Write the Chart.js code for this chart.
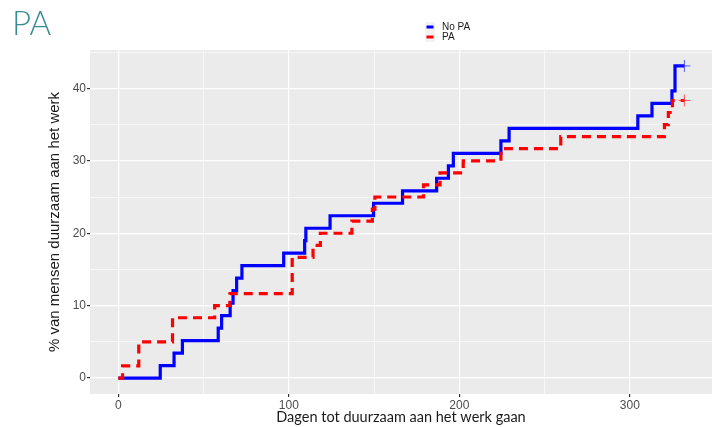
<!DOCTYPE html>
<html>
<head>
<meta charset="utf-8">
<script src="https://cdn.jsdelivr.net/npm/chart.js@4.4.1/dist/chart.umd.min.js"></script>
<style>
	body { margin: 0; background: #ffffff; }
	#wrap { position: relative; width: 719px; height: 427px; }
	#title {
		position: absolute; left: 12px; top: 2px;
		font-family: "Lato", "Open Sans", sans-serif; font-weight: 300;
		font-size: 33px; color: #3a8c94; letter-spacing: 0px;
	}
</style>
</head>
<body>
<div id="wrap">
	<canvas id="kmChart" width="719" height="427"></canvas>
	<div id="title">PA</div>
</div>
<script>
// series values (days, cumulative %)
const noPaDays = [0, 24.6, 32.7, 37.6, 58.6, 60.6, 65.6, 67.3, 69.4, 72.5, 97, 109.3, 110, 124.2, 149.7, 166.7, 186.7, 193.6, 196.5, 224.4, 229.2, 304.7, 313, 324.7, 326.5, 332];
const noPaPct = [0, 1.72, 3.45, 5.17, 6.9, 8.62, 10.34, 12.07, 13.79, 15.52, 17.24, 18.97, 20.69, 22.41, 24.14, 25.86, 27.59, 29.31, 31.03, 32.76, 34.48, 36.21, 37.93, 39.66, 43.1, 43.1];
const paDays = [0, 2.5, 12, 31.8, 56.5, 65.5, 102, 114.2, 118.5, 137, 149, 150.5, 179, 188.7, 202.3, 224.4, 259.5, 320.3, 322.6, 325, 332];
const paPct = [0, 1.67, 5.0, 8.33, 10.0, 11.67, 16.67, 18.33, 20.0, 21.67, 23.33, 25.0, 26.67, 28.33, 30.0, 31.67, 33.33, 35.0, 36.67, 38.33, 38.33];
const seriesLabels = ["No PA", "PA"];
const xTicks = [0, 100, 200, 300];
const yTicks = [0, 10, 20, 30, 40];

function toPoints(days, pct) {
	return days.map((d, i) => ({ x: d, y: pct[i] }));
}

// only the last point gets the censor "+"
function lastOnly(size) {
	return (ctx) => ctx.dataIndex === ctx.dataset.data.length - 1 ? size : 0;
}

//grey panel behind the plot, like ggplot
const panelBg = {
	id: "panelBg",
	beforeDraw(chart) {
		const { ctx, chartArea: a } = chart;
		ctx.save();
		ctx.fillStyle = "#ebebeb";
		ctx.fillRect(a.left, a.top, a.right - a.left, a.bottom - a.top);
		ctx.restore();
	}
};

//small legend above the panel
const keyLegend = {
	id: "keyLegend",
	afterDraw(chart) {
		const ctx = chart.ctx;
		const x = 425, y0 = 22;
		ctx.save();
		ctx.fillStyle = "#f2f2f2";
		ctx.fillRect(x, y0, 10, 20);
		chart.data.datasets.forEach((ds, i) => {
			const y = y0 + 5 + i * 10;
			ctx.strokeStyle = ds.borderColor;
			ctx.lineWidth = 3;
			ctx.beginPath();
			ctx.moveTo(x + 1.5, y);
			ctx.lineTo(x + 8.5, y);
			ctx.stroke();
			ctx.fillStyle = "#1a1a1a";
			ctx.font = "10px 'Liberation Sans', Arial, sans-serif";
			ctx.textBaseline = "middle";
			ctx.fillText(ds.label, x + 17, y + 0.5);
		});
		ctx.restore();
	}
};

const ctx = document.getElementById("kmChart").getContext("2d");
new Chart(ctx, {
	type: "line",
	data: {
		datasets: [
			{
				label: seriesLabels[0],
				data: toPoints(noPaDays, noPaPct),
				stepped: "before",
				borderColor: "#0000ff",
				borderWidth: 3.2,
				borderJoinStyle: "miter",
				fill: false,
				order: 1,
				pointStyle: "cross",
				pointRadius: lastOnly(6),
				pointHoverRadius: 0,
				pointBorderWidth: 1,
				pointBorderColor: "rgba(40,40,255,0.75)",
			},
			{
				label: seriesLabels[1],
				data: toPoints(paDays, paPct),
				stepped: "before",
				borderColor: "#ff0000",
				borderWidth: 3.2,
				borderDash: [9, 6],
				borderJoinStyle: "miter",
				fill: false,
				order: 0,
				pointStyle: "cross",
				pointRadius: lastOnly(6),
				pointHoverRadius: 0,
				pointBorderWidth: 1,
				pointBorderColor: "rgba(255,40,40,0.75)",
			},
		],
	},
	options: {
		responsive: false,
		animation: false,
		layout: { padding: { left: 0, right: 6, top: 50, bottom: 0 } },
		plugins: {
			legend: { display: false },
			title: { display: false },
			tooltip: { enabled: false },
		},
		scales: {
			x: {
				type: "linear",
				min: -16.6,
				max: 348.2,
				afterFit: (scale) => { scale.height = 33; },
				border: { display: false },
				grid: {
					color: "#ffffff",
					lineWidth: (c) => xTicks.includes(c.tick.value) ? 1.2 : 0.6,
					tickColor: (c) => xTicks.includes(c.tick.value) ? "#333333" : "transparent",
					tickLength: 3,
				},
				ticks: {
					stepSize: 50,
					autoSkip: false,
					includeBounds: false,
					maxRotation: 0,
					padding: 1,
					color: "#4d4d4d",
					font: { family: "'Liberation Sans', Arial, sans-serif", size: 12 },
					callback: (v) => xTicks.includes(v) ? v : "",
				},
				title: {
					display: true,
					text: "Dagen tot duurzaam aan het werk gaan",
					color: "#1a1a1a",
					font: { family: "Lato, 'Open Sans', sans-serif", size: 14.5 },
					padding: { top: 0, bottom: 1 },
				},
			},
			y: {
				type: "linear",
				min: -2.2,
				max: 45.3,
				afterFit: (scale) => { scale.width = 90; },
				border: { display: false },
				grid: {
					color: "#ffffff",
					lineWidth: (c) => yTicks.includes(c.tick.value) ? 1.2 : 0.6,
					tickColor: (c) => yTicks.includes(c.tick.value) ? "#333333" : "transparent",
					tickLength: 3,
				},
				ticks: {
					stepSize: 5,
					autoSkip: false,
					includeBounds: false,
					padding: 1,
					color: "#4d4d4d",
					font: { family: "'Liberation Sans', Arial, sans-serif", size: 12 },
					callback: (v) => yTicks.includes(v) ? v : "",
				},
				title: {
					display: true,
					text: "% van mensen duurzaam aan het werk",
					color: "#1a1a1a",
					font: { family: "'Liberation Sans', Arial, sans-serif", size: 15 },
					padding: { top: 46, bottom: 0 },
				},
			},
		},
	},
	plugins: [panelBg, keyLegend],
});
</script>
</body>
</html>
